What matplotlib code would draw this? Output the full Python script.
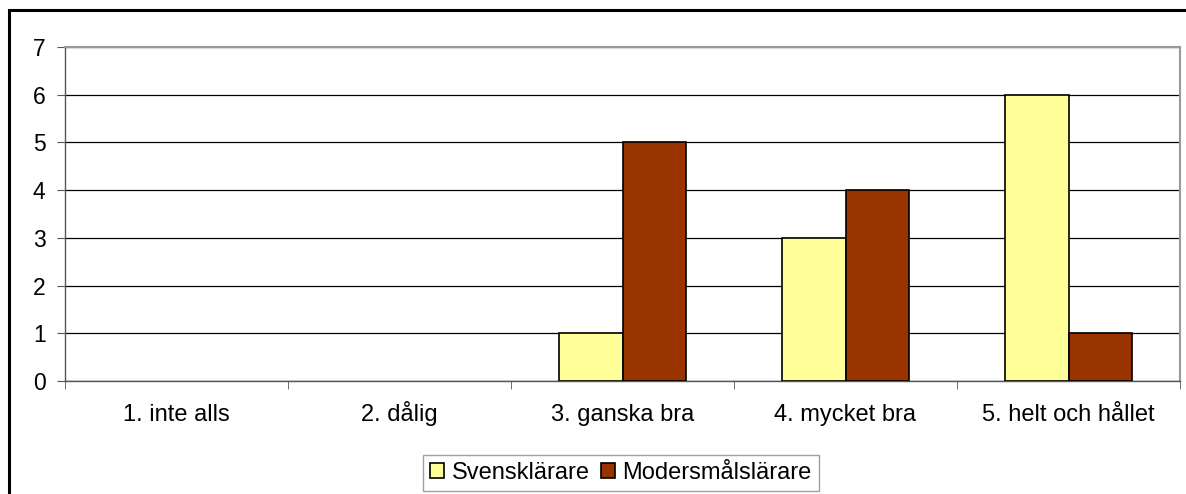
import numpy as np
import matplotlib.pyplot as plt
from matplotlib.patches import Rectangle, Patch

plt.rcParams['font.family'] = ['Liberation Sans', 'DejaVu Sans']

categories = ["1. inte alls", "2. dålig", "3. ganska bra", "4. mycket bra", "5. helt och hållet"]
svensk = [0, 0, 1, 3, 6]
moders = [0, 0, 5, 4, 1]
series_names = ["Svensklärare", "Modersmålslärare"]
colors = ["#FFFF99", "#993300"]

W, H = 1186, 494
fig = plt.figure(figsize=(W / 100, H / 100), dpi=100)
ax = fig.add_axes([65 / W, 1 - 381 / H, (1180 - 65) / W, (381 - 47) / H])

# outer chart frame (cut off at right/bottom like the original)
fig.patches.append(Rectangle((8.5 / W, -0.1), 1.2, 1 - 10.5 / H + 0.1,
                             transform=fig.transFigure, fill=False,
                             edgecolor='black', linewidth=2.2))

x = np.arange(len(categories))
w = 1 / 3.5
for offs, vals, col in [(-w / 2, svensk, colors[0]), (w / 2, moders, colors[1])]:
    bars = ax.bar(x + offs, vals, w, color=col, edgecolor='black', linewidth=1.2, zorder=3)
    for b, v in zip(bars, vals):
        if v == 0:
            b.set_edgecolor('none')

ax.set_xlim(-0.5, len(categories) - 0.5)
ax.set_ylim(0, 7)
ax.set_yticks(range(8))
ax.yaxis.grid(True, color='black', linewidth=0.9, zorder=0)
ax.set_xticks(x)
ax.set_xticklabels(categories, fontsize=17)
for lbl in ax.get_xticklabels():
    lbl.set_va('baseline')
ax.set_xticks(np.arange(len(categories) + 1) - 0.5, minor=True)
ax.tick_params(axis='x', which='major', length=0, pad=29)
ax.tick_params(axis='x', which='minor', length=6, color='#555555', direction='out')
ax.tick_params(axis='y', labelsize=16.5, length=6, color='#555555', pad=8)

for s in ['top', 'right']:
    ax.spines[s].set_color('#999999')
    ax.spines[s].set_linewidth(1.5)
for s in ['left', 'bottom']:
    ax.spines[s].set_color('#555555')
    ax.spines[s].set_linewidth(1)

handles = [Patch(facecolor=c, edgecolor='black', linewidth=1.2) for c in colors]
leg = fig.legend(handles, series_names, loc='center', bbox_to_anchor=(621 / W, 1 - 473 / H),
                 ncol=2, fontsize=17, frameon=True, fancybox=False, handlelength=0.6,
                 handleheight=0.6, handletextpad=0.3, columnspacing=0.5,
                 borderpad=0.3, borderaxespad=0)
leg.get_frame().set_edgecolor('#888888')
leg.get_frame().set_linewidth(1)

fig.savefig('out.png', dpi=100)
